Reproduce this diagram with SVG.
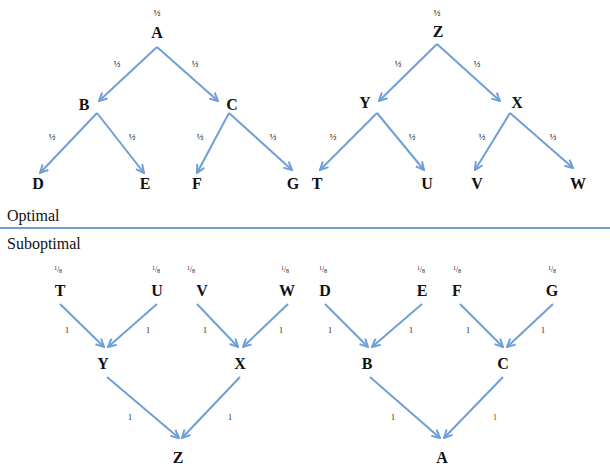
<svg xmlns="http://www.w3.org/2000/svg" width="610" height="472" viewBox="0 0 610 472" font-family="Liberation Serif, serif">
<defs>
<marker id="ah" viewBox="0 0 10 10" refX="9" refY="5" markerWidth="10" markerHeight="10" markerUnits="userSpaceOnUse" orient="auto">
<path d="M1,1 L9,5 L1,9" fill="none" stroke="#6f9fd6" stroke-width="2" stroke-linejoin="miter"/>
</marker>
</defs>
<style>
.n{font-weight:bold;font-size:16px;fill:#111;text-anchor:middle}
.h{font-size:9px;fill:#222;text-anchor:middle;font-weight:bold}
.o{font-size:8px;fill:#222;text-anchor:middle}
.w{font-size:16px;fill:#111}
.c line{stroke:#6f9fd6;stroke-width:2;fill:none}
.a{marker-end:url(#ah)}
</style>
<rect width="610" height="472" fill="#fff"/>
<g class="c" id="connectors">
<line class="a" x1="157" y1="47" x2="99" y2="101"/>
<line class="a" x1="157" y1="47" x2="218" y2="101"/>
<line class="a" x1="97" y1="113" x2="40" y2="173"/>
<line class="a" x1="97" y1="113" x2="144" y2="173"/>
<line class="a" x1="229" y1="113" x2="197" y2="173"/>
<line class="a" x1="229" y1="113" x2="292" y2="170"/>
<line class="a" x1="437" y1="44" x2="379" y2="101"/>
<line class="a" x1="437" y1="44" x2="500" y2="101"/>
<line class="a" x1="377" y1="113" x2="320" y2="170"/>
<line class="a" x1="377" y1="113" x2="424" y2="170"/>
<line class="a" x1="510" y1="113" x2="475" y2="170"/>
<line class="a" x1="510" y1="113" x2="573" y2="168"/>
<line x1="0" y1="228" x2="610" y2="228"/>
<line class="a" x1="60" y1="304" x2="104" y2="347"/>
<line class="a" x1="157" y1="304" x2="108" y2="347"/>
<line class="a" x1="197" y1="304" x2="238" y2="347"/>
<line class="a" x1="288" y1="304" x2="243" y2="347"/>
<line class="a" x1="107" y1="377" x2="179" y2="438"/>
<line class="a" x1="240" y1="377" x2="182" y2="438"/>
<line class="a" x1="325" y1="304" x2="368" y2="347"/>
<line class="a" x1="422" y1="304" x2="372" y2="347"/>
<line class="a" x1="460" y1="304" x2="503" y2="347"/>
<line class="a" x1="553" y1="304" x2="507" y2="347"/>
<line class="a" x1="370" y1="377" x2="440" y2="438"/>
<line class="a" x1="503" y1="377" x2="444" y2="438"/>
</g>
<g id="labels">
<text class="h" x="157" y="16">½</text>
<text class="h" x="117" y="67">½</text>
<text class="h" x="195" y="67">½</text>
<text class="h" x="52" y="140">½</text>
<text class="h" x="132" y="140">½</text>
<text class="h" x="200" y="140">½</text>
<text class="h" x="273" y="140">½</text>
<text class="h" x="437" y="16">½</text>
<text class="h" x="398" y="67">½</text>
<text class="h" x="477" y="67">½</text>
<text class="h" x="333" y="140">½</text>
<text class="h" x="412" y="140">½</text>
<text class="h" x="482" y="140">½</text>
<text class="h" x="553" y="140">½</text>
<text class="w" x="7" y="221">Optimal</text>
<text class="w" x="7" y="249">Suboptimal</text>
<text class="o" x="58" y="272"><tspan font-size="6" dy="-2">1</tspan><tspan dy="2">/</tspan><tspan font-size="6" dy="1">8</tspan></text>
<text class="o" x="156" y="272"><tspan font-size="6" dy="-2">1</tspan><tspan dy="2">/</tspan><tspan font-size="6" dy="1">8</tspan></text>
<text class="o" x="191" y="272"><tspan font-size="6" dy="-2">1</tspan><tspan dy="2">/</tspan><tspan font-size="6" dy="1">8</tspan></text>
<text class="o" x="285" y="272"><tspan font-size="6" dy="-2">1</tspan><tspan dy="2">/</tspan><tspan font-size="6" dy="1">8</tspan></text>
<text class="o" x="323" y="272"><tspan font-size="6" dy="-2">1</tspan><tspan dy="2">/</tspan><tspan font-size="6" dy="1">8</tspan></text>
<text class="o" x="421" y="272"><tspan font-size="6" dy="-2">1</tspan><tspan dy="2">/</tspan><tspan font-size="6" dy="1">8</tspan></text>
<text class="o" x="457" y="272"><tspan font-size="6" dy="-2">1</tspan><tspan dy="2">/</tspan><tspan font-size="6" dy="1">8</tspan></text>
<text class="o" x="552" y="272"><tspan font-size="6" dy="-2">1</tspan><tspan dy="2">/</tspan><tspan font-size="6" dy="1">8</tspan></text>
<text class="o" x="67" y="333">1</text>
<text class="o" x="148" y="333">1</text>
<text class="o" x="205" y="333">1</text>
<text class="o" x="281" y="333">1</text>
<text class="o" x="330" y="333">1</text>
<text class="o" x="411" y="333">1</text>
<text class="o" x="468" y="333">1</text>
<text class="o" x="543" y="333">1</text>
<text class="o" x="130" y="420">1</text>
<text class="o" x="230" y="420">1</text>
<text class="o" x="393" y="420">1</text>
<text class="o" x="495" y="420" style="fill:#8a3030">1</text>
</g>
<g id="opt-A"><text class="n" x="157" y="38">A</text></g>
<g id="opt-B"><text class="n" x="84" y="110">B</text></g>
<g id="opt-C"><text class="n" x="232" y="110">C</text></g>
<g id="opt-D"><text class="n" x="38" y="189">D</text></g>
<g id="opt-E"><text class="n" x="145" y="189">E</text></g>
<g id="opt-F"><text class="n" x="197" y="189">F</text></g>
<g id="opt-G"><text class="n" x="293" y="189">G</text></g>
<g id="opt-Z"><text class="n" x="438" y="37">Z</text></g>
<g id="opt-Y"><text class="n" x="365" y="108">Y</text></g>
<g id="opt-X"><text class="n" x="517" y="108">X</text></g>
<g id="opt-T"><text class="n" x="317" y="189">T</text></g>
<g id="opt-U"><text class="n" x="427" y="189">U</text></g>
<g id="opt-V"><text class="n" x="477" y="189">V</text></g>
<g id="opt-W"><text class="n" x="578" y="189">W</text></g>
<g id="sub-T"><text class="n" x="60" y="296">T</text></g>
<g id="sub-U"><text class="n" x="157" y="296">U</text></g>
<g id="sub-V"><text class="n" x="202" y="296">V</text></g>
<g id="sub-W"><text class="n" x="287" y="296">W</text></g>
<g id="sub-Y"><text class="n" x="103" y="369">Y</text></g>
<g id="sub-X"><text class="n" x="240" y="369">X</text></g>
<g id="sub-Z"><text class="n" x="178" y="463">Z</text></g>
<g id="sub-D"><text class="n" x="325" y="296">D</text></g>
<g id="sub-E"><text class="n" x="422" y="296">E</text></g>
<g id="sub-F"><text class="n" x="457" y="296">F</text></g>
<g id="sub-G"><text class="n" x="552" y="296">G</text></g>
<g id="sub-B"><text class="n" x="367" y="369">B</text></g>
<g id="sub-C"><text class="n" x="503" y="369">C</text></g>
<g id="sub-A"><text class="n" x="442" y="463">A</text></g>
</svg>
